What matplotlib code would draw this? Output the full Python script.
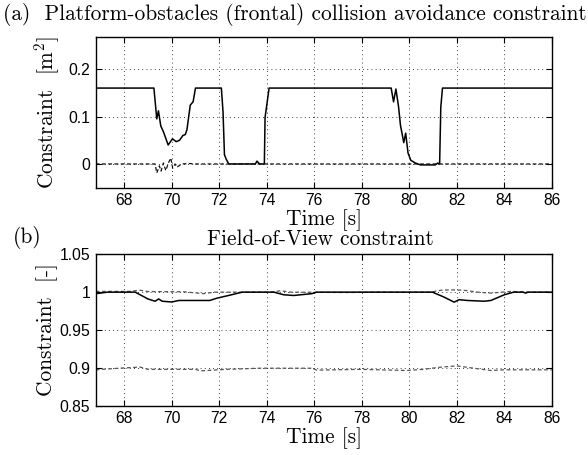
import matplotlib
matplotlib.use("Agg")
import matplotlib.pyplot as plt
from matplotlib.ticker import FuncFormatter

plt.rcParams['mathtext.fontset'] = 'cm'
plt.rcParams['axes.unicode_minus'] = False

# (a) platform-obstacle constraint, solid = constraint, dashed = zero reference
t_a = [66.8, 69.25, 69.37, 69.44, 69.54, 69.65, 69.85, 70.03, 70.19, 70.33, 70.47,
       70.57, 70.64, 70.78, 70.9, 71.0, 72.09, 72.16, 72.22, 72.29, 72.4, 73.52,
       73.59, 73.7, 73.9, 73.93, 74.1, 79.24, 79.34, 79.44, 79.55, 79.63, 79.77,
       79.85, 79.95, 80.07, 80.26, 80.47, 81.1, 81.2, 81.28, 81.33, 81.4, 86.0]
c_a = [0.16, 0.16, 0.095, 0.112, 0.080, 0.068, 0.040, 0.053, 0.047, 0.050, 0.060,
       0.062, 0.072, 0.124, 0.131, 0.16, 0.16, 0.110, 0.0195, 0.0105, 0.0, 0.0,
       0.006, 0.0, 0.0, 0.098, 0.16, 0.16, 0.131, 0.158, 0.121, 0.082, 0.045,
       0.065, 0.023, 0.0076, 0.002, -0.002, -0.002, 0.002, 0.0, 0.12, 0.16, 0.16]
t_a0 = [66.8, 69.3, 69.37, 69.48, 69.55, 69.65, 69.75, 69.86, 69.96, 70.04, 70.14,
        70.21, 70.33, 70.43, 70.78, 70.9, 86.0]
c_a0 = [0.0, 0.0, -0.019, -0.004, -0.015, 0.002, -0.014, 0.002, 0.0126, -0.009, 0.0,
        -0.007, -0.003, 0.0, 0.001, 0.0, 0.0]

# (b) field-of-view constraint
t_b1 = [66.8, 67.3, 68.46, 69.0, 69.3, 69.45, 69.6, 70.0, 70.3, 70.9, 71.6, 71.9,
        72.45, 72.9, 73.0, 74.3, 74.72, 75.14, 75.9, 76.1, 80.98, 81.47, 81.89,
        82.1, 82.45, 83.15, 83.44, 84.0, 84.4, 84.8, 84.9, 85.0, 86.0]
c_b1 = [0.998, 1.0, 1.0, 0.991, 0.988, 0.991, 0.988, 0.987, 0.989, 0.989, 0.989,
        0.992, 0.996, 0.9995, 1.0, 1.0, 0.9965, 0.9956, 0.998, 1.0, 1.0, 0.9934,
        0.9868, 0.990, 0.989, 0.988, 0.989, 0.9965, 1.0, 1.0, 0.9987, 1.0, 1.0]
t_b2 = [66.8, 68.2, 68.67, 69.0, 70.5, 71.34, 71.8, 74.2, 74.58, 75.0, 77.5, 78.5,
        80.9, 81.33, 81.75, 82.3, 82.9, 83.44, 84.3, 85.0, 86.0]
c_b2 = [1.001, 1.001, 1.0025, 1.0008, 1.0005, 0.998, 1.0, 1.0, 1.0018, 1.0, 0.9995,
        1.0, 1.0, 1.0025, 1.003, 1.0025, 1.0, 0.9987, 1.001, 1.0, 1.0]
t_b3 = [66.8, 67.83, 68.67, 69.0, 71.0, 71.2, 72.3, 73.7, 75.9, 76.1, 77.95, 79.9,
        80.6, 81.2, 82.0, 82.6, 83.44, 84.0, 86.0]
c_b3 = [0.8974, 0.8996, 0.901, 0.898, 0.898, 0.896, 0.898, 0.8995, 0.8995, 0.897,
        0.898, 0.8965, 0.898, 0.9005, 0.9026, 0.900, 0.8965, 0.8974, 0.8974]

xticks = list(range(68, 87, 2))
yticks_a = [0, 0.1, 0.2]
yticks_b = [0.85, 0.9, 0.95, 1.0, 1.05]

serif = 'cmr10'
lab_fs = 15.4
tick_fs = 11.3

fig = plt.figure(figsize=(5.88, 4.55), dpi=100)
ax1 = fig.add_axes([0.1628, 0.5875, 0.7755, 0.3305])
ax2 = fig.add_axes([0.1628, 0.1084, 0.7755, 0.3327])

ax1.plot(t_a, c_a, color='black', lw=1.1)
ax1.plot(t_a0, c_a0, color='#111111', lw=0.9, ls=(0, (3, 2)))
ax1.set_ylim(-0.05, 0.267)
ax1.set_yticks(yticks_a)

ax2.plot(t_b2, c_b2, color='#555555', lw=0.9, ls=(0, (3, 2)))
ax2.plot(t_b3, c_b3, color='#555555', lw=0.9, ls=(0, (3, 2)))
ax2.plot(t_b1, c_b1, color='black', lw=1.1)
ax2.set_ylim(0.85, 1.05)
ax2.set_yticks(yticks_b)

fmt = FuncFormatter(lambda v, p: '%g' % round(v, 4))
for ax in (ax1, ax2):
    ax.set_xlim(66.8, 86)
    ax.set_xticks(xticks)
    ax.yaxis.set_major_formatter(fmt)
    ax.grid(True, color='black', ls=(0, (1, 4)), lw=0.6)
    ax.tick_params(direction='in', length=4, width=0.8, top=True, right=True,
                   labelsize=tick_fs, pad=4)
    for lbl in ax.get_xticklabels() + ax.get_yticklabels():
        lbl.set_family('Liberation Sans')
    for s in ax.spines.values():
        s.set_linewidth(1.0)

fig.text(3 / 588, 1 - 14 / 455, '(a)  Platform-obstacles (frontal) collision avoidance constraint',
         family=serif, fontsize=lab_fs, ha='left', va='center')
fig.text(47 / 588, 1 - 112.5 / 455, r'Constraint  $[\mathrm{m}^2]$', family=serif,
         fontsize=lab_fs, rotation=90, ha='center', va='center')
fig.text(324 / 588, 1 - 220 / 455, 'Time [s]', family=serif, fontsize=lab_fs,
         ha='center', va='center')
fig.text(13 / 588, 1 - 237 / 455, '(b)', family=serif, fontsize=lab_fs,
         ha='left', va='center')
fig.text(320 / 588, 1 - 239 / 455, 'Field-of-View constraint', family=serif,
         fontsize=lab_fs, ha='center', va='center')
fig.text(47 / 588, 1 - 330 / 455, 'Constraint  [-]', family=serif, fontsize=lab_fs,
         rotation=90, ha='center', va='center')
fig.text(324 / 588, 1 - 438 / 455, 'Time [s]', family=serif, fontsize=lab_fs,
         ha='center', va='center')

fig.savefig('out.png', dpi=100)
